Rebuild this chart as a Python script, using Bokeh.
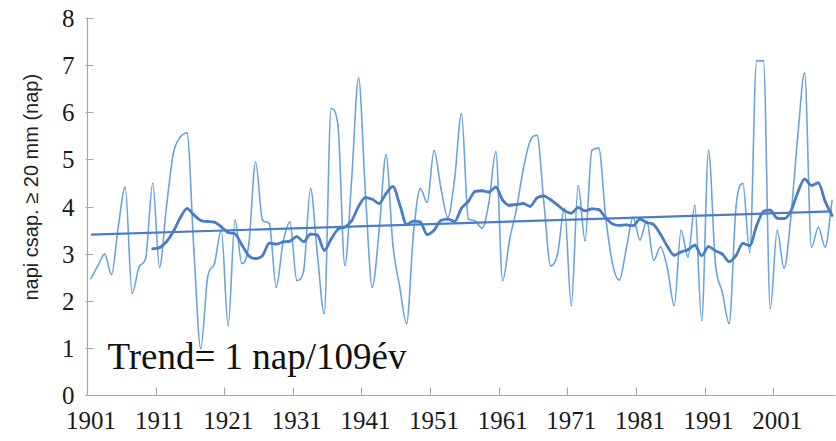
import numpy as np
import pandas as pd
from bokeh.plotting import figure
from bokeh.models import Range1d, FixedTicker, Label, ColumnDataSource, Title
from bokeh.embed import file_html
from bokeh.resources import INLINE

# ---- data ----
years = list(range(1901, 2010))
days = [2.48, 2.75, 3.0, 2.57, 3.6, 4.42, 2.17, 2.72, 2.93, 4.5,
        2.72, 4.0, 5.13, 5.48, 5.57, 3.1, 1.0, 2.5, 2.8, 3.5,
        1.49, 3.72, 2.8, 3.2, 4.95, 3.72, 3.65, 2.3, 3.25, 3.68,
        2.44, 2.65, 4.39, 3.0, 1.74, 6.09, 5.73, 2.76, 4.6, 6.73,
        4.3, 2.3, 3.5, 5.1, 3.2, 2.3, 1.53, 3.44, 4.39, 4.1,
        5.2, 4.4, 3.78, 4.6, 5.98, 3.75, 3.7, 3.55, 4.1, 5.17,
        2.44, 3.3, 3.95, 4.8, 5.4, 5.52, 4.1, 2.75, 3.0, 3.97,
        1.91, 4.45, 3.29, 5.2, 5.25, 3.8, 2.8, 2.45, 3.1, 3.78,
        3.3, 3.7, 2.87, 3.15, 2.7, 1.91, 3.5, 2.94, 4.03, 1.59,
        5.2, 2.8, 2.2, 1.53, 4.0, 4.5, 3.04, 7.1, 7.1, 1.85,
        3.5, 2.7, 3.8, 5.5, 6.84, 3.15, 3.57, 3.15, 4.14]
x_tick_years = [1901, 1911, 1921, 1931, 1941, 1951, 1961, 1971, 1981, 1991, 2001]
x_tick_marks = [1910.5, 1920.5, 1930.5, 1940.5, 1950.5, 1960.5, 1970.5, 1980.5, 1990.5, 2000.5]
y_ticks = [0, 1, 2, 3, 4, 5, 6, 7, 8]
ma_period = 10
y_title = "napi csap. ≥ 20 mm (nap)"
trend_text = "Trend= 1 nap/109év"

# ---- derived series ----
ma = pd.Series(days, index=years).rolling(ma_period).mean().dropna()
coef = np.polyfit(years, days, 1)
trend_x = [years[0], years[-1]]
trend_y = [coef[0] * years[0] + coef[1], coef[0] * years[-1] + coef[1]]


def bezier_source(xs, ys):
    """Smoothed line drawn as cubic Bezier segments through the points."""
    xs = np.asarray(xs, float)
    ys = np.asarray(ys, float)
    n = len(xs)
    h = np.diff(xs)
    d = np.diff(ys) / h
    m = np.zeros(n)
    m[0], m[-1] = d[0], d[-1]
    for i in range(1, n - 1):
        if d[i - 1] * d[i] <= 0:
            m[i] = 0.0
        else:
            t = (d[i - 1] + d[i]) / 2
            lim = 3 * min(abs(d[i - 1]), abs(d[i]))
            m[i] = np.sign(t) * min(abs(t), lim)
    src = dict(x0=xs[:-1], y0=ys[:-1], x1=xs[1:], y1=ys[1:],
               cx0=xs[:-1] + h / 3, cy0=ys[:-1] + m[:-1] * h / 3,
               cx1=xs[1:] - h / 3, cy1=ys[1:] - m[1:] * h / 3)
    return ColumnDataSource(src)


p = figure(width=836, height=441, output_backend="svg", toolbar_location=None,
           x_range=Range1d(1900.5, 2009.5), y_range=Range1d(0, 8),
           min_border_left=85, min_border_top=18, min_border_right=1,
           min_border_bottom=46)
p.outline_line_color = None
p.xgrid.visible = False
p.ygrid.visible = False
p.background_fill_color = "white"

data_col = "#5B9BD5"
ma_col = "#4A7DC4"

p.bezier(x0="x0", y0="y0", x1="x1", y1="y1", cx0="cx0", cy0="cy0",
         cx1="cx1", cy1="cy1", source=bezier_source(years, days),
         line_color=data_col, line_width=1.6, line_alpha=0.9, line_cap="round")
p.bezier(x0="x0", y0="y0", x1="x1", y1="y1", cx0="cx0", cy0="cy0",
         cx1="cx1", cy1="cy1", source=bezier_source(list(ma.index), list(ma.values)),
         line_color=ma_col, line_width=2.8, line_cap="round")
p.line(trend_x, trend_y, line_color=ma_col, line_width=2.2)

axis_col = "#A6A6A6"
xa = p.xaxis[0]
xa.ticker = FixedTicker(ticks=x_tick_years, minor_ticks=x_tick_marks)
xa.major_tick_in = 0
xa.major_tick_out = 0
xa.minor_tick_in = 8
xa.minor_tick_out = 0
xa.minor_tick_line_color = axis_col
xa.axis_line_color = axis_col
xa.axis_line_width = 1.2
xa.major_label_text_font = "Liberation Serif"
xa.major_label_text_font_size = "25px"
xa.major_label_text_color = "#1a1a1a"
xa.major_label_standoff = 16

ya = p.yaxis[0]
ya.ticker = FixedTicker(ticks=y_ticks)
ya.major_tick_in = 6
ya.major_tick_out = 2
ya.minor_tick_in = 0
ya.minor_tick_out = 0
ya.major_tick_line_color = axis_col
ya.axis_line_color = axis_col
ya.axis_line_width = 1.2
ya.major_label_text_font = "Liberation Serif"
ya.major_label_text_font_size = "25px"
ya.major_label_text_color = "#1a1a1a"
ya.major_label_standoff = 11

# y title, placed like the reference (shifted toward the top)
p.add_layout(Title(text=y_title, align="left", offset=95, standoff=34,
                   text_font="Liberation Sans", text_font_size="20px",
                   text_font_style="normal", text_color="#222222"), "left")

p.add_layout(Label(x=1903.4, y=0.83, text=trend_text, text_font="Liberation Serif",
                   text_font_size="37px", text_color="#111111",
                   text_baseline="alphabetic"))

open("out.html", "w").write(file_html(p, INLINE))
